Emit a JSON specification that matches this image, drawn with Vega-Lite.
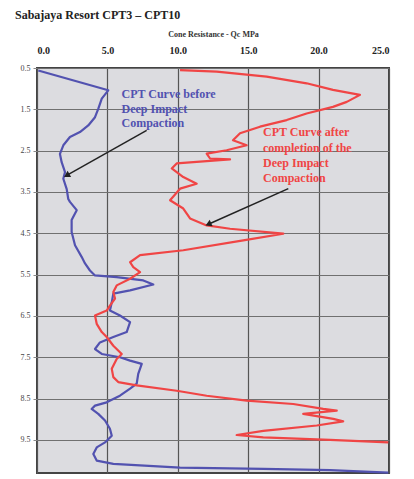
{
  "$schema": "https://vega.github.io/schema/vega-lite/v6.json",
  "width": 352,
  "height": 405,
  "autosize": "none",
  "padding": {"left": 37, "top": 68, "right": 25, "bottom": 6},
  "background": "white",
  "title": {
    "text": "Sabajaya Resort CPT3 – CPT10",
    "anchor": "start",
    "frame": "group",
    "dx": -22,
    "offset": 8,
    "font": "Liberation Serif",
    "fontSize": 12,
    "fontWeight": "bold",
    "color": "#222222"
  },
  "config": {
    "view": {"fill": "#dcdce0", "stroke": "#444444", "strokeWidth": 2},
    "axis": {"labelFont": "Liberation Serif", "titleFont": "Liberation Serif", "domain": false}
  },
  "datasets": {
    "cpt": [
      {"series": "before", "qc": 0.09, "depth": 0.56},
      {"series": "before", "qc": 5.06, "depth": 1.04},
      {"series": "before", "qc": 4.6, "depth": 1.24},
      {"series": "before", "qc": 4.35, "depth": 1.49},
      {"series": "before", "qc": 4.12, "depth": 1.69},
      {"series": "before", "qc": 3.64, "depth": 1.89},
      {"series": "before", "qc": 3.05, "depth": 2.05},
      {"series": "before", "qc": 2.34, "depth": 2.17},
      {"series": "before", "qc": 1.87, "depth": 2.37},
      {"series": "before", "qc": 1.63, "depth": 2.58},
      {"series": "before", "qc": 1.75, "depth": 2.78},
      {"series": "before", "qc": 1.99, "depth": 3.02},
      {"series": "before", "qc": 1.87, "depth": 3.18},
      {"series": "before", "qc": 2.11, "depth": 3.43},
      {"series": "before", "qc": 2.22, "depth": 3.67},
      {"series": "before", "qc": 2.34, "depth": 3.74},
      {"series": "before", "qc": 2.82, "depth": 3.94},
      {"series": "before", "qc": 2.46, "depth": 4.18},
      {"series": "before", "qc": 2.46, "depth": 4.47},
      {"series": "before", "qc": 2.7, "depth": 4.79},
      {"series": "before", "qc": 3.17, "depth": 5.07},
      {"series": "before", "qc": 3.41, "depth": 5.23},
      {"series": "before", "qc": 3.76, "depth": 5.4},
      {"series": "before", "qc": 4.12, "depth": 5.52},
      {"series": "before", "qc": 5.66, "depth": 5.56},
      {"series": "before", "qc": 7.55, "depth": 5.64},
      {"series": "before", "qc": 8.26, "depth": 5.74},
      {"series": "before", "qc": 6.61, "depth": 5.88},
      {"series": "before", "qc": 5.42, "depth": 5.96},
      {"series": "before", "qc": 5.31, "depth": 6.17},
      {"series": "before", "qc": 5.18, "depth": 6.37},
      {"series": "before", "qc": 5.89, "depth": 6.49},
      {"series": "before", "qc": 6.61, "depth": 6.65},
      {"series": "before", "qc": 6.37, "depth": 6.89},
      {"series": "before", "qc": 5.42, "depth": 7.01},
      {"series": "before", "qc": 4.47, "depth": 7.14},
      {"series": "before", "qc": 4.12, "depth": 7.3},
      {"series": "before", "qc": 4.6, "depth": 7.42},
      {"series": "before", "qc": 5.89, "depth": 7.5},
      {"series": "before", "qc": 6.61, "depth": 7.58},
      {"series": "before", "qc": 7.44, "depth": 7.66},
      {"series": "before", "qc": 7.19, "depth": 7.9},
      {"series": "before", "qc": 7.08, "depth": 8.14},
      {"series": "before", "qc": 6.61, "depth": 8.26},
      {"series": "before", "qc": 5.89, "depth": 8.43},
      {"series": "before", "qc": 4.95, "depth": 8.59},
      {"series": "before", "qc": 4.12, "depth": 8.67},
      {"series": "before", "qc": 3.88, "depth": 8.75},
      {"series": "before", "qc": 4.35, "depth": 8.87},
      {"series": "before", "qc": 4.83, "depth": 9.03},
      {"series": "before", "qc": 5.18, "depth": 9.23},
      {"series": "before", "qc": 5.31, "depth": 9.4},
      {"series": "before", "qc": 4.83, "depth": 9.56},
      {"series": "before", "qc": 4.24, "depth": 9.68},
      {"series": "before", "qc": 4.0, "depth": 9.84},
      {"series": "before", "qc": 4.24, "depth": 10.0},
      {"series": "before", "qc": 5.42, "depth": 10.08},
      {"series": "before", "qc": 10.16, "depth": 10.17},
      {"series": "before", "qc": 16.07, "depth": 10.2},
      {"series": "before", "qc": 20.81, "depth": 10.23},
      {"series": "before", "qc": 24.95, "depth": 10.29},
      {"series": "after", "qc": 10.16, "depth": 0.55},
      {"series": "after", "qc": 12.76, "depth": 0.59},
      {"series": "after", "qc": 16.31, "depth": 0.71},
      {"series": "after", "qc": 19.15, "depth": 0.87},
      {"series": "after", "qc": 21.02, "depth": 1.03},
      {"series": "after", "qc": 22.94, "depth": 1.15},
      {"series": "after", "qc": 22.0, "depth": 1.32},
      {"series": "after", "qc": 21.02, "depth": 1.44},
      {"series": "after", "qc": 19.15, "depth": 1.6},
      {"series": "after", "qc": 17.73, "depth": 1.76},
      {"series": "after", "qc": 15.84, "depth": 1.92},
      {"series": "after", "qc": 14.42, "depth": 2.08},
      {"series": "after", "qc": 13.92, "depth": 2.25},
      {"series": "after", "qc": 14.89, "depth": 2.37},
      {"series": "after", "qc": 13.47, "depth": 2.49},
      {"series": "after", "qc": 12.05, "depth": 2.57},
      {"series": "after", "qc": 12.29, "depth": 2.69},
      {"series": "after", "qc": 13.71, "depth": 2.71},
      {"series": "after", "qc": 9.92, "depth": 2.81},
      {"series": "after", "qc": 9.57, "depth": 2.93},
      {"series": "after", "qc": 10.39, "depth": 3.14},
      {"series": "after", "qc": 11.34, "depth": 3.3},
      {"series": "after", "qc": 10.16, "depth": 3.42},
      {"series": "after", "qc": 9.45, "depth": 3.7},
      {"series": "after", "qc": 10.39, "depth": 3.9},
      {"series": "after", "qc": 10.87, "depth": 4.14},
      {"series": "after", "qc": 12.05, "depth": 4.31},
      {"series": "after", "qc": 13.71, "depth": 4.39},
      {"series": "after", "qc": 17.49, "depth": 4.51},
      {"series": "after", "qc": 14.65, "depth": 4.67},
      {"series": "after", "qc": 10.39, "depth": 4.91},
      {"series": "after", "qc": 7.32, "depth": 5.03},
      {"series": "after", "qc": 6.61, "depth": 5.2},
      {"series": "after", "qc": 6.84, "depth": 5.32},
      {"series": "after", "qc": 7.32, "depth": 5.44},
      {"series": "after", "qc": 6.61, "depth": 5.6},
      {"series": "after", "qc": 5.66, "depth": 5.76},
      {"series": "after", "qc": 5.42, "depth": 5.92},
      {"series": "after", "qc": 5.54, "depth": 6.08},
      {"series": "after", "qc": 5.18, "depth": 6.25},
      {"series": "after", "qc": 4.95, "depth": 6.37},
      {"series": "after", "qc": 4.12, "depth": 6.49},
      {"series": "after", "qc": 4.24, "depth": 6.69},
      {"series": "after", "qc": 4.6, "depth": 6.89},
      {"series": "after", "qc": 4.95, "depth": 7.01},
      {"series": "after", "qc": 5.42, "depth": 7.22},
      {"series": "after", "qc": 6.02, "depth": 7.42},
      {"series": "after", "qc": 5.66, "depth": 7.54},
      {"series": "after", "qc": 5.31, "depth": 7.78},
      {"series": "after", "qc": 5.42, "depth": 7.98},
      {"series": "after", "qc": 5.77, "depth": 8.1},
      {"series": "after", "qc": 7.08, "depth": 8.18},
      {"series": "after", "qc": 9.92, "depth": 8.31},
      {"series": "after", "qc": 12.05, "depth": 8.43},
      {"series": "after", "qc": 14.89, "depth": 8.55},
      {"series": "after", "qc": 18.2, "depth": 8.63},
      {"series": "after", "qc": 20.33, "depth": 8.75},
      {"series": "after", "qc": 21.29, "depth": 8.79},
      {"series": "after", "qc": 18.91, "depth": 8.87},
      {"series": "after", "qc": 21.04, "depth": 8.99},
      {"series": "after", "qc": 21.75, "depth": 9.05},
      {"series": "after", "qc": 19.87, "depth": 9.15},
      {"series": "after", "qc": 16.07, "depth": 9.28},
      {"series": "after", "qc": 14.18, "depth": 9.38},
      {"series": "after", "qc": 16.07, "depth": 9.44},
      {"series": "after", "qc": 20.81, "depth": 9.5},
      {"series": "after", "qc": 24.95, "depth": 9.56}
    ],
    "notes": [
      {"series": "before", "label": "CPT Curve before", "qc": 6.0, "depth": 1.12},
      {"series": "before", "label": "Deep Impact", "qc": 6.0, "depth": 1.48},
      {"series": "before", "label": "Compaction", "qc": 6.0, "depth": 1.84},
      {"series": "after", "label": "CPT Curve after", "qc": 16.05, "depth": 2.04},
      {"series": "after", "label": "completion of the", "qc": 16.05, "depth": 2.44},
      {"series": "after", "label": "Deep Impact", "qc": 16.05, "depth": 2.81},
      {"series": "after", "label": "Compaction", "qc": 16.05, "depth": 3.17}
    ],
    "arrows": [
      {"series": "before", "qc": 7.79, "depth": 2.01, "qc2": 2.11, "depth2": 3.1},
      {"series": "after", "qc": 17.85, "depth": 3.42, "qc2": 12.17, "depth2": 4.28}
    ]
  },
  "layer": [
    {
      "data": {"name": "cpt"},
      "mark": {"type": "line", "strokeWidth": 2.2, "strokeJoin": "round"},
      "encoding": {
        "x": {
          "field": "qc", "type": "quantitative",
          "scale": {"domain": [0, 25], "nice": false},
          "axis": {
            "orient": "top", "title": "Cone Resistance - Qc MPa",
            "values": [0, 5, 10, 15, 20, 25], "format": ".1f",
            "grid": true, "gridColor": "#555555", "gridWidth": 1.2, "gridOpacity": 1,
            "ticks": false, "labelPadding": 13,
            "labelFontSize": 10, "labelFontWeight": "bold", "labelColor": "#222222",
            "titleFontSize": 8, "titleFontWeight": "bold", "titleColor": "#333333", "titlePadding": 7
          }
        },
        "y": {
          "field": "depth", "type": "quantitative",
          "scale": {"domain": [0.5, 10.3], "nice": false, "zero": false, "reverse": true},
          "axis": {
            "title": null,
            "values": [0.5, 1, 1.5, 2, 2.5, 3, 3.5, 4, 4.5, 5, 5.5, 6, 6.5, 7, 7.5, 8, 8.5, 9, 9.5, 10],
            "labelExpr": "datum.value % 1 == 0.5 ? format(datum.value, '.1f') : ''",
            "grid": true, "gridColor": "#707070", "gridWidth": 1.2, "gridOpacity": 1,
            "ticks": true, "tickSize": 4, "tickColor": "#888888",
            "labelFontSize": 8, "labelColor": "#444444", "labelPadding": 3
          }
        },
        "color": {
          "field": "series", "type": "nominal",
          "scale": {"domain": ["before", "after"], "range": ["#5252b0", "#f04545"]},
          "legend": null
        },
        "order": {"field": "depth", "type": "quantitative"}
      }
    },
    {
      "data": {"name": "notes"},
      "mark": {"type": "text", "align": "left", "baseline": "middle", "font": "Liberation Serif", "fontSize": 12, "fontWeight": "bold"},
      "encoding": {
        "x": {"field": "qc", "type": "quantitative"},
        "y": {"field": "depth", "type": "quantitative"},
        "text": {"field": "label"},
        "color": {"field": "series", "type": "nominal", "legend": null}
      }
    },
    {
      "data": {"name": "arrows"},
      "mark": {"type": "rule", "color": "#222222", "strokeWidth": 1.5},
      "encoding": {
        "x": {"field": "qc", "type": "quantitative"},
        "y": {"field": "depth", "type": "quantitative"},
        "x2": {"field": "qc2"},
        "y2": {"field": "depth2"}
      }
    },
    {
      "data": {"name": "arrows"},
      "transform": [{"filter": "datum.series == 'before'"}],
      "mark": {"type": "point", "shape": "triangle-up", "filled": true, "color": "#222222", "size": 50, "opacity": 1, "angle": 240},
      "encoding": {
        "x": {"field": "qc2", "type": "quantitative"},
        "y": {"field": "depth2", "type": "quantitative"}
      }
    },
    {
      "data": {"name": "arrows"},
      "transform": [{"filter": "datum.series == 'after'"}],
      "mark": {"type": "point", "shape": "triangle-up", "filled": true, "color": "#222222", "size": 50, "opacity": 1, "angle": 246},
      "encoding": {
        "x": {"field": "qc2", "type": "quantitative"},
        "y": {"field": "depth2", "type": "quantitative"}
      }
    }
  ]
}
